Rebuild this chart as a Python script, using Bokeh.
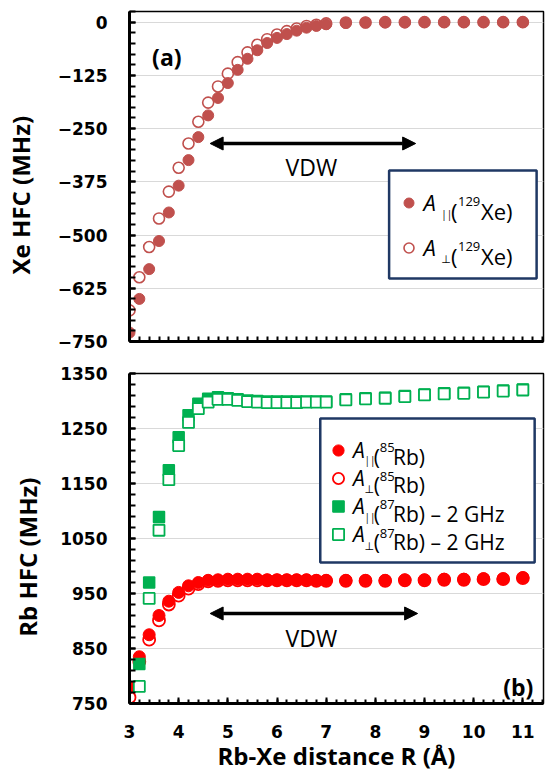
import numpy as np
from bokeh.plotting import figure
from bokeh.models import (FixedTicker, Label, Arrow, NormalHead, BoxAnnotation,
                          Legend, LegendItem, Range1d)
from bokeh.layouts import column
from bokeh.embed import file_html
from bokeh.resources import INLINE

# ---------------- data ----------------
r_xe = [3.0, 3.2, 3.4, 3.6, 3.8, 4.0, 4.2, 4.4, 4.6, 4.8, 5.0, 5.2, 5.4, 5.6, 5.8,
        6.0, 6.2, 6.4, 6.6, 6.8, 7.0, 7.4, 7.8, 8.2, 8.6, 9.0, 9.4, 9.8, 10.2, 10.6, 11.0]
xe_A_par = [-729, -650, -580, -514, -447, -384, -324, -270, -219, -178, -143, -112, -86, -66, -49,
            -37, -28, -20, -13, -9, -5, -2, -1, -1, -1, 0, 0, 0, 0, 0, 0]
xe_A_perp = [-677, -599, -528, -461, -398, -342, -285, -234, -189, -151, -121, -94, -71, -53, -40,
             -29, -21, -15, -9, -6, -3, -1, -1, 0, 0, 0, 0, 0, 0, 0, 0]

r_rb85 = [3.0, 3.2, 3.4, 3.6, 3.8, 4.0, 4.2, 4.4, 4.6, 4.8, 5.0, 5.2, 5.4, 5.6, 5.8,
          6.0, 6.2, 6.4, 6.6, 6.8, 7.0, 7.4, 7.8, 8.2, 8.6, 9.0, 9.4, 9.8, 10.2, 10.6, 11.0]
rb85_A_par = [779, 835, 875, 910, 936, 952, 964, 970, 974, 975, 976, 976, 976, 976, 975,
              975, 975, 975, 975, 974, 974, 974, 974, 974, 975, 975, 976, 976, 977, 977, 979]
rb85_A_perp = [761, 826, 866, 901, 930, 946, 959, 967, 972, 973, 974, 974, 974, 974, 974,
               974, 974, 974, 974, 973, 973, 973, 973, 973, 974, 974, 975, 975, 976, 976, 978]

r_rb87 = [3.2, 3.4, 3.6, 3.8, 4.0, 4.2, 4.4, 4.6, 4.8, 5.0, 5.2, 5.4, 5.6, 5.8,
          6.0, 6.2, 6.4, 6.6, 6.8, 7.0, 7.4, 7.8, 8.2, 8.6, 9.0, 9.4, 9.8, 10.2, 10.6, 11.0]
rb87_A_par_m2GHz = [822, 970, 1089, 1174, 1234, 1274, 1295, 1304, 1307, 1305, 1303, 1301, 1300, 1299,
                    1299, 1299, 1299, 1299, 1299, 1299, 1303, 1305, 1306, 1309, 1312, 1314, 1315, 1317, 1319, 1321]
rb87_A_perp_m2GHz = [781, 941, 1065, 1157, 1219, 1261, 1286, 1298, 1303, 1303, 1301, 1299, 1298, 1297,
                     1297, 1297, 1297, 1298, 1298, 1298, 1302, 1304, 1305, 1308, 1311, 1313, 1314, 1316, 1318, 1320]

x_ticks = [3, 4, 5, 6, 7, 8, 9, 10, 11]
y_ticks_xe = [-750, -625, -500, -375, -250, -125, 0]
y_ticks_rb = [750, 850, 950, 1050, 1150, 1250, 1350]

# ---------------- geometry (canvas pixels, the page has no body margin) ----------------
FIG_W = 546
FR_L, FR_R = 122, 543
TOP_T, TOP_B = 11, 341
BOT_T, BOT_B = 373, 703
H1, H2 = 358, 416
X0 = 3.0
X1 = X0 + (FR_R - FR_L) / 50.0
YT0, YT1 = -750, 25
YB0, YB1 = 750, 1350
LEG_DX = -5   # legend swatches are drawn a few px right of their nominal box


def xd(px):
    return X0 + (px - FR_L) * (X1 - X0) / (FR_R - FR_L)


def yt(py):
    return YT1 - (py - TOP_T) * (YT1 - YT0) / (TOP_B - TOP_T)


def yb(py):
    return YB1 - (py - BOT_T) * (YB1 - YB0) / (BOT_B - BOT_T)


RED1 = "#C0504D"
RED2 = "#FF0000"
GREEN = "#00B050"
NAVY = "#1F3864"
TICK_FONT = "DejaVu Sans"
TITLE_FONT = "Open Sans"
TXT_FONT = "Open Sans"

x_minor = [round(v, 2) for v in np.arange(3.0, X1 + 0.001, 0.2)]


def style(p, yticks, yminor, ylabel, ylabel_standoff, show_x_labels):
    p.background_fill_color = "white"
    p.border_fill_color = "white"
    p.outline_line_color = "black"
    p.outline_line_width = 1.5
    p.xgrid.visible = False
    p.ygrid.grid_line_color = "#D9D9D9"
    p.ygrid.grid_line_width = 1
    for ax in (p.xaxis[0], p.yaxis[0]):
        ax.axis_line_width = 3
        ax.axis_line_color = "black"
        ax.major_tick_out = 0
        ax.minor_tick_out = 0
        ax.major_tick_line_width = 2
        ax.minor_tick_line_width = 2
        ax.major_tick_line_color = "black"
        ax.minor_tick_line_color = "black"
        ax.major_label_text_font = TICK_FONT
        ax.major_label_text_font_style = "bold"
        ax.major_label_text_font_size = "17px"
        ax.major_label_text_color = "black"
        ax.axis_label_text_font = TITLE_FONT
        ax.axis_label_text_font_style = "bold"
        ax.axis_label_text_font_size = "24px"
        ax.axis_label_text_color = "black"
    p.yaxis.ticker = FixedTicker(ticks=yticks, minor_ticks=yminor)
    p.yaxis.major_tick_in = 6
    p.yaxis.minor_tick_in = 6
    p.yaxis.major_label_standoff = 22
    p.yaxis.axis_label = ylabel
    p.yaxis.axis_label_standoff = ylabel_standoff
    if show_x_labels:
        p.xaxis.ticker = FixedTicker(ticks=x_ticks, minor_ticks=x_minor)
        p.xaxis.major_tick_in = 6
        p.xaxis.minor_tick_in = 4
        p.xaxis.major_label_standoff = 21
        p.xaxis.axis_label = "Rb-Xe distance R (\u00c5)"
        p.xaxis.axis_label_standoff = -2
    else:
        # the upper panel shows tick marks only, no tick labels
        p.xaxis.ticker = FixedTicker(ticks=[], minor_ticks=x_minor)
        p.xaxis.minor_tick_in = 5
        p.xaxis.major_label_standoff = 0


def add_text(p, yconv, text, px, py, size, font=TXT_FONT, style="normal", align="left"):
    p.add_layout(Label(x=xd(px), y=yconv(py), text=text, text_font=font,
                       text_font_size=f"{size}px", text_font_style=style,
                       text_align=align, text_baseline="alphabetic", text_color="black"))


def make_legend(items, left_px, top_px, bottom_frame_px, n, gw, gh, row_h, standoff, fsize):
    # row_h: the height Bokeh gives each row (max of glyph height and text height)
    height = n * row_h
    leg = Legend(items=items,
                 location=(left_px + LEG_DX - FR_L, bottom_frame_px - (top_px + height)),
                 glyph_width=gw, glyph_height=gh, label_height=gh, label_width=0,
                 label_standoff=standoff, spacing=0, padding=0, margin=0,
                 label_text_font=TXT_FONT, label_text_font_style="italic",
                 label_text_font_size=f"{fsize}px", label_text_color="black",
                 label_text_baseline="middle",
                 border_line_alpha=0, background_fill_alpha=0)
    return leg


NB = "\u00a0" * 6

# ---------------- top panel ----------------
p1 = figure(width=FIG_W, height=H1, x_range=Range1d(X0, X1), y_range=Range1d(YT0, YT1),
            output_backend="svg", toolbar_location=None,
            min_border_left=FR_L, min_border_right=FIG_W - FR_R,
            min_border_top=TOP_T, min_border_bottom=H1 - TOP_B)
style(p1, y_ticks_xe, list(range(-750, 26, 25)), "Xe HFC (MHz)" + NB, 18, False)

r_xe_perp = p1.scatter(r_xe, xe_A_perp, marker="circle", size=11, fill_color="white",
                       line_color=RED1, line_width=1.6)
r_xe_par = p1.scatter(r_xe, xe_A_par, marker="circle", size=11, fill_color=RED1,
                      line_color=RED1, line_width=1)

p1.add_layout(Arrow(start=NormalHead(size=13, fill_color="black", line_color="black"),
                    end=NormalHead(size=13, fill_color="black", line_color="black"),
                    x_start=xd(204), y_start=yt(143), x_end=xd(413), y_end=yt(143),
                    line_width=3.5, line_color="black"))
add_text(p1, yt, "VDW", 307, 166, 23, align="center")
add_text(p1, yt, "(a)", 145, 56, 23, style="bold")

p1.add_layout(BoxAnnotation(left=xd(386), right=xd(536), top=yt(170), bottom=yt(278),
                            fill_color="white", fill_alpha=1.0, line_color=NAVY,
                            line_width=2.5, line_alpha=1.0))
TOP_ROW_H = 45
top_first_center = 202
leg1 = make_legend([LegendItem(label="A", renderers=[r_xe_par]),
                    LegendItem(label="A", renderers=[r_xe_perp])],
                   393.5, top_first_center - TOP_ROW_H / 2, TOP_B, 2, 25, TOP_ROW_H, TOP_ROW_H, 3, 22)
p1.add_layout(leg1)

for i, (sub, subfont, subsize, subdy) in enumerate((("||", TXT_FONT, 10, 3),
                                                    ("\u22a5", "DejaVu Sans", 11, 4))):
    base = top_first_center + i * TOP_ROW_H + 8
    add_text(p1, yt, sub, 439, base + subdy, subsize, font=subfont)
    add_text(p1, yt, "(", 449, base, 22)
    add_text(p1, yt, "129", 456, base - 9, 13)
    add_text(p1, yt, "Xe)", 479.5, base, 22)

# ---------------- bottom panel ----------------
p2 = figure(width=FIG_W, height=H2, x_range=Range1d(X0, X1), y_range=Range1d(YB0, YB1),
            output_backend="svg", toolbar_location=None,
            min_border_left=FR_L, min_border_right=FIG_W - FR_R,
            min_border_top=BOT_T - H1, min_border_bottom=H1 + H2 - BOT_B)
style(p2, y_ticks_rb, list(range(750, 1351, 20)), "Rb HFC (MHz)" + NB, 13, True)

r85_perp = p2.scatter(r_rb85, rb85_A_perp, marker="circle", size=12, fill_color="white",
                      line_color=RED2, line_width=1.8)
r85_par = p2.scatter(r_rb85, rb85_A_par, marker="circle", size=12, fill_color=RED2,
                     line_color=RED2, line_width=1)
r87_par = p2.scatter(r_rb87, rb87_A_par_m2GHz, marker="square", size=11, fill_color=GREEN,
                     line_color=GREEN, line_width=1.5)
r87_perp = p2.scatter(r_rb87, rb87_A_perp_m2GHz, marker="square", size=11, fill_color="white",
                      line_color=GREEN, line_width=1.8)

p2.add_layout(Arrow(start=NormalHead(size=13, fill_color="black", line_color="black"),
                    end=NormalHead(size=13, fill_color="black", line_color="black"),
                    x_start=xd(204), y_start=yb(613), x_end=xd(415), y_end=yb(613),
                    line_width=3.5, line_color="black"))
add_text(p2, yb, "VDW", 307, 637, 23, align="center")
add_text(p2, yb, "(b)", 502, 686, 23, style="bold")

p2.add_layout(BoxAnnotation(left=xd(316), right=xd(534), top=yb(418), bottom=yb(562),
                            fill_color="white", fill_alpha=1.0, line_color=NAVY,
                            line_width=2.5, line_alpha=1.0))
BOT_FS = 21
BOT_ROW_H = 1.362 * BOT_FS          # Bokeh rows follow the measured text height
bot_first_center = 448
leg2 = make_legend([LegendItem(label="A", renderers=[r85_par]),
                    LegendItem(label="A", renderers=[r85_perp]),
                    LegendItem(label="A", renderers=[r87_par]),
                    LegendItem(label="A", renderers=[r87_perp])],
                   321, bot_first_center - BOT_ROW_H / 2, BOT_B, 4, 30, 28, BOT_ROW_H, -4, BOT_FS)
p2.add_layout(leg2)

rows = (("||", "85", ""), ("\u22a5", "85", ""),
        ("||", "87", " \u2013 2 GHz"), ("\u22a5", "87", " \u2013 2 GHz"))
for i, (sub, iso, tail) in enumerate(rows):
    base = bot_first_center + i * BOT_ROW_H + 8
    if sub == "||":
        add_text(p2, yb, sub, 361, base + 3, 10)
    else:
        add_text(p2, yb, sub, 361, base + 4, 11, font="DejaVu Sans")
    add_text(p2, yb, "(", 370.5, base, BOT_FS)
    add_text(p2, yb, iso, 376.5, base - 9, 13)
    add_text(p2, yb, "Rb)" + tail, 390, base, BOT_FS)

layout = column(p1, p2)
open("out.html", "w").write(file_html(layout, INLINE))
